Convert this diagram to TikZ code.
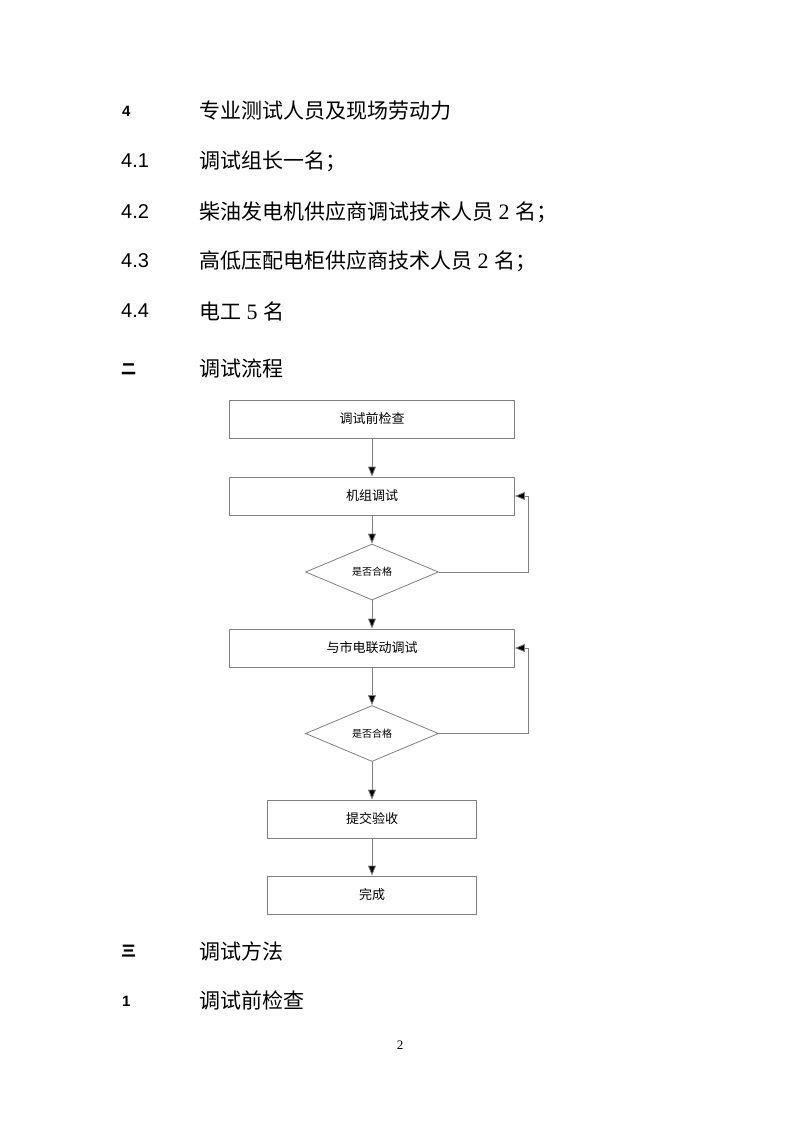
\documentclass[tikz,border=0pt]{standalone}
\usepackage{fontspec}
\setmainfont{Liberation Serif}
\newfontfamily\cjk{Noto Sans CJK SC}
\newfontfamily\arial{Liberation Sans}
\usetikzlibrary{shapes.geometric,arrows.meta}
\tikzset{
  stepbox/.style={draw=black!50, line width=0.8pt, rectangle, minimum height=38pt, inner sep=0pt, font=\cjk\fontsize{13}{15}\selectfont},
  decide/.style={draw=black!50, line width=0.8pt, diamond, minimum width=133pt, minimum height=56pt, inner sep=0pt, font=\cjk\fontsize{10}{12}\selectfont},
  flow/.style={draw=black!50, line width=0.8pt, -{Triangle[length=10pt,width=8pt,fill=black]}},
  num/.style={anchor=west, inner sep=0pt, font=\arial\fontsize{20}{24}\selectfont},
  numb/.style={anchor=west, inner sep=0pt, font=\arial\bfseries\fontsize{15}{18}\selectfont},
  body/.style={anchor=west, inner sep=0pt, font=\cjk\fontsize{21}{25}\selectfont},
}
\begin{document}
\begin{tikzpicture}[x=1pt,y=-1pt]
\useasboundingbox[fill=white] (0,0) rectangle (800,1132);
% text lines
\node[numb] (n4) at (122,111) {4};
\node[body] (t4) at (199,111) {专业测试人员及现场劳动力};
\node[num] (n41) at (121,161) {4.1};
\node[body] (t41) at (199,161) {调试组长一名；};
\node[num] (n42) at (121,212) {4.2};
\node[body] (t42) at (199,212) {柴油发电机供应商调试技术人员{\rmfamily\fontsize{22}{25}\selectfont\ 2 }名；};
\node[num] (n43) at (121,261) {4.3};
\node[body] (t43) at (199,261) {高低压配电柜供应商技术人员{\rmfamily\fontsize{22}{25}\selectfont\ 2 }名；};
\node[num] (n44) at (121,311) {4.4};
\node[body] (t44) at (199,311) {电工{\rmfamily\fontsize{22}{25}\selectfont\ 5 }名};
\node[anchor=west, inner sep=0pt, font=\cjk\bfseries\fontsize{15}{18}\selectfont] (n2) at (121,369) {二};
\node[body] (t2) at (199,369) {调试流程};
\node[anchor=west, inner sep=0pt, font=\cjk\bfseries\fontsize{15}{18}\selectfont] (n3) at (121,951) {三};
\node[body] (t3) at (199,951) {调试方法};
\node[numb] (n1) at (122,1001) {1};
\node[body] (t1) at (199,1000) {调试前检查};
\node[inner sep=0pt, font=\rmfamily\fontsize{13}{15}\selectfont] (pg) at (400,1045) {2};
% flowchart
\node[stepbox, minimum width=285pt] (b1) at (372,419) {调试前检查};
\node[stepbox, minimum width=285pt] (b2) at (372,496) {机组调试};
\node[decide] (d1) at (372,572) {是否合格};
\node[stepbox, minimum width=285pt] (b3) at (372,648) {与市电联动调试};
\node[decide] (d2) at (372,733.5) {是否合格};
\node[stepbox, minimum width=209pt] (b4) at (372,819) {提交验收};
\node[stepbox, minimum width=209pt] (b5) at (372,895) {完成};
\coordinate (c1) at (528,572);
\coordinate (c2) at (528,496);
\coordinate (c3) at (528,733.5);
\coordinate (c4) at (528,648);
\draw[flow] (b1.south) -- (b2.north);
\draw[flow] (b2.south) -- (d1.north);
\draw[flow] (d1.south) -- (b3.north);
\draw[flow] (b3.south) -- (d2.north);
\draw[flow] (d2.south) -- (b4.north);
\draw[flow] (b4.south) -- (b5.north);
\draw[flow] (d1.east) -- (c1) -- (c2) -- (b2.east);
\draw[flow] (d2.east) -- (c3) -- (c4) -- (b3.east);
\end{tikzpicture}
\end{document}
